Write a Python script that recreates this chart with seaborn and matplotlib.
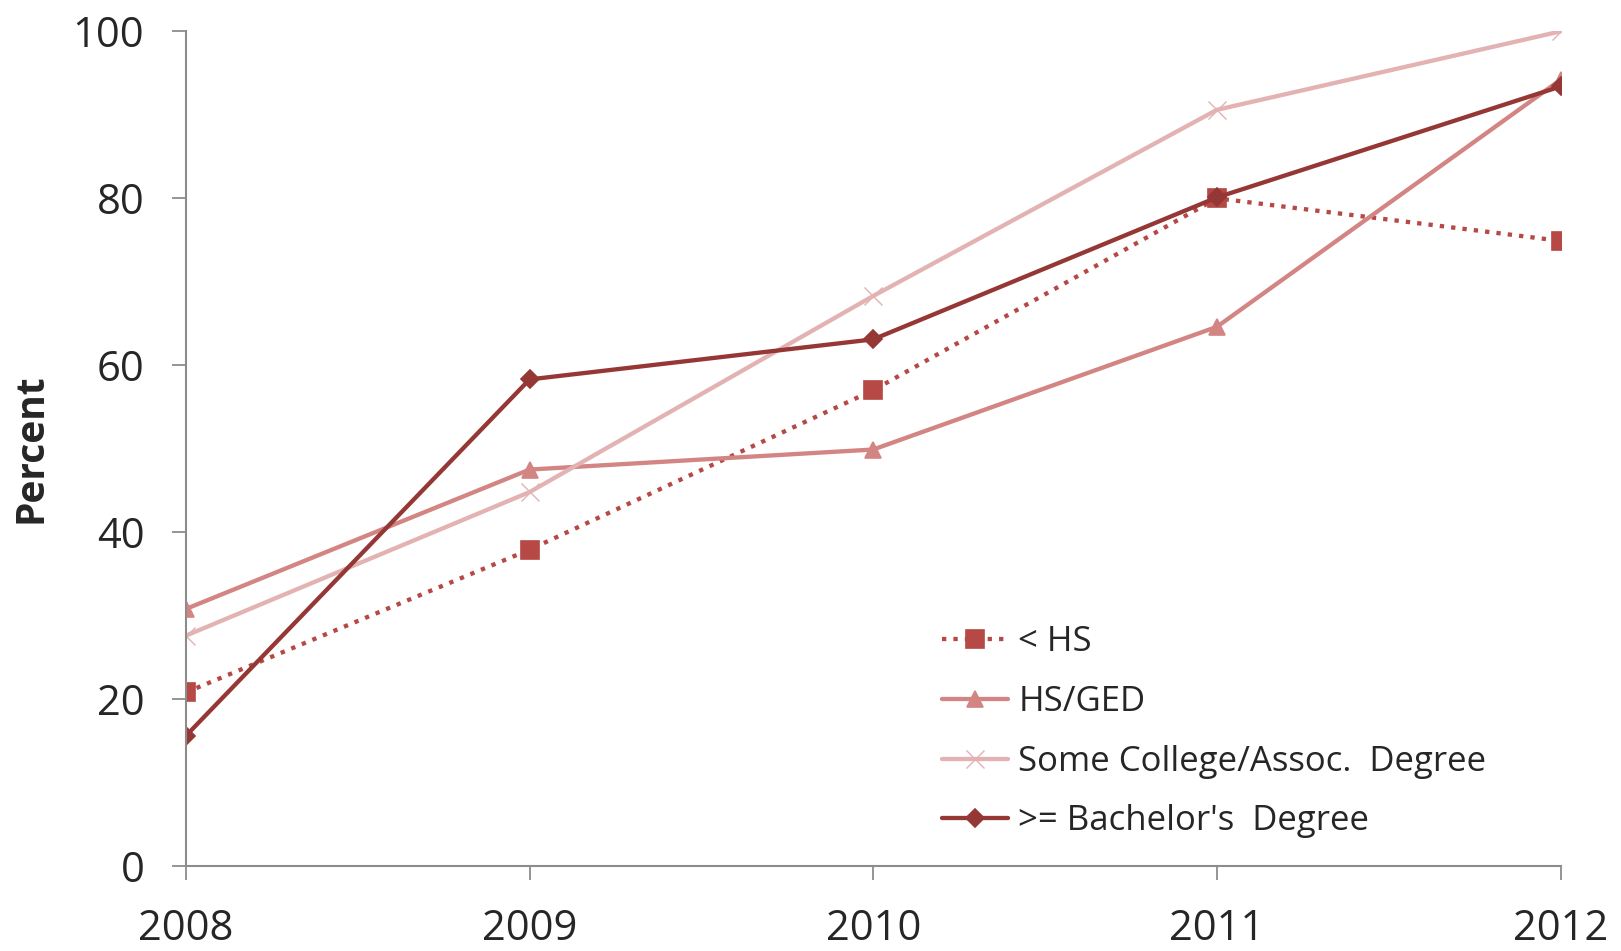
import pandas as pd
import matplotlib
matplotlib.use("Agg")
import matplotlib.pyplot as plt
import seaborn as sns

years = [2008, 2009, 2010, 2011, 2012]
less_hs = [20.8, 37.9, 57.0, 80.0, 74.9]
hs_ged = [30.8, 47.5, 49.9, 64.6, 94.2]
some_college = [27.6, 44.8, 68.3, 90.6, 100.0]
bachelor = [15.6, 58.3, 63.1, 80.1, 93.4]

groups = ["< HS", "HS/GED", "Some College/Assoc.  Degree", ">= Bachelor's  Degree"]
series = [less_hs, hs_ged, some_college, bachelor]

colors = ["#b64846", "#d38583", "#e2b3b2", "#953735"]
marker_list = ["s", "^", "x", "D"]
styles = [":", "-", "-", "-"]
msizes = [13, 12, 13, 9]

sns.set_style("white")
plt.rcParams["font.family"] = ["Open Sans", "DejaVu Sans"]

fig = plt.figure(figsize=(16.21, 9.51), dpi=100)
ax = fig.add_axes([0.1147, 0.0894, 0.848, 0.8776])

for g, vals, c, m, ls, ms in zip(groups, series, colors, marker_list, styles, msizes):
    d = pd.DataFrame({"Year": years, "Percent": vals})
    sns.lineplot(data=d, x="Year", y="Percent", color=c, marker=m, linestyle=ls,
                 linewidth=3.1, markersize=ms, markeredgecolor=c,
                 markeredgewidth=1.0 if m == "x" else 1.2, label=g, ax=ax)

ax.set_xlim(2008, 2012)
ax.set_ylim(0, 100)
ax.set_xticks(years)
ax.set_yticks([0, 20, 40, 60, 80, 100])
ax.tick_params(axis="both", labelsize=30, length=10, width=1.3, color="#8c8c8c",
               direction="out", bottom=True, left=True)
ax.tick_params(axis="x", pad=20)
ax.tick_params(axis="y", pad=20)
for s in ["top", "right"]:
    ax.spines[s].set_visible(False)
for s in ["left", "bottom"]:
    ax.spines[s].set_color("#8c8c8c")
    ax.spines[s].set_linewidth(1.5)
ax.set_xlabel("")
ax.set_ylabel("Percent", fontsize=28, fontweight="bold", labelpad=16)

leg = ax.legend(loc="upper left", bbox_to_anchor=(0.54, 0.305), frameon=False,
                fontsize=25, handlelength=1.9, handletextpad=0.3, labelspacing=0.74,
                borderaxespad=0)

fig.savefig("out.png", dpi=100)
